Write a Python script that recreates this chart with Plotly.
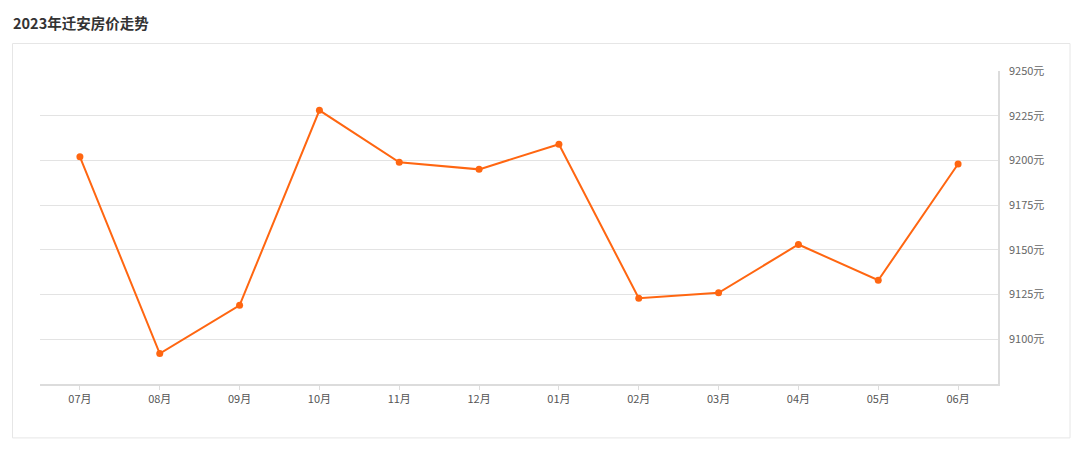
import plotly.graph_objects as go

months = ["07月", "08月", "09月", "10月", "11月", "12月", "01月", "02月", "03月", "04月", "05月", "06月"]
prices = [9202, 9092, 9119, 9228, 9199, 9195, 9209, 9123, 9126, 9153, 9133, 9198]
y_ticks = [9100, 9125, 9150, 9175, 9200, 9225, 9250]
title_text = "2023年迁安房价走势"

OFF = 8  # page body margin
W, H = 1080 - OFF, 449 - OFF
L, R, T, B = 40, 998, 70.5, 384
pw, ph = R - L, B - T

def px(x):
    return (x - L) / pw

def py(y):
    return (B - y) / ph

fig = go.Figure()
fig.add_trace(go.Scatter(
    x=months, y=prices, mode="lines+markers",
    line=dict(color="#ff6611", width=2),
    marker=dict(color="#ff6611", size=7),
    hoverinfo="x+y",
))

fig.update_layout(
    width=W, height=H,
    margin=dict(l=L - OFF, r=1080 - R, t=T - OFF, b=449 - B),
    paper_bgcolor="white", plot_bgcolor="white",
    showlegend=False,
    font=dict(family="Noto Sans CJK SC", size=11, color="#666"),
    xaxis=dict(
        type="category", range=[-0.5, 11.5],
        showgrid=False, showline=True, linecolor="#dcdcdc", linewidth=1.5,
        ticks="outside", ticklen=4, tickcolor="#dddddd",
        tickfont=dict(size=11, color="#555"),
        zeroline=False, fixedrange=True,
    ),
    yaxis=dict(
        side="right", range=[9075, 9250],
        tickvals=y_ticks, ticktext=[f"{v}元" for v in y_ticks],
        showgrid=True, gridcolor="#e3e3e3", gridwidth=1,
        showline=True, linecolor="#dcdcdc", linewidth=1.5,
        ticks="", ticklabelstandoff=7,
        tickfont=dict(size=11, color="#666"),
        zeroline=False, fixedrange=True,
    ),
    shapes=[dict(
        type="rect", xref="paper", yref="paper",
        x0=px(12.5), x1=px(1070), y0=py(438), y1=py(43),
        line=dict(color="#e6e6e6", width=1), fillcolor="rgba(0,0,0,0)", layer="below",
    )],
    annotations=[dict(
        text=f"<b>{title_text}</b>", xref="paper", yref="paper",
        x=px(11), y=py(22), xanchor="left", yanchor="middle", showarrow=False,
        font=dict(family="Noto Sans CJK SC", size=14.5, color="#333"),
    )],
)

fig.write_html("out.html")
